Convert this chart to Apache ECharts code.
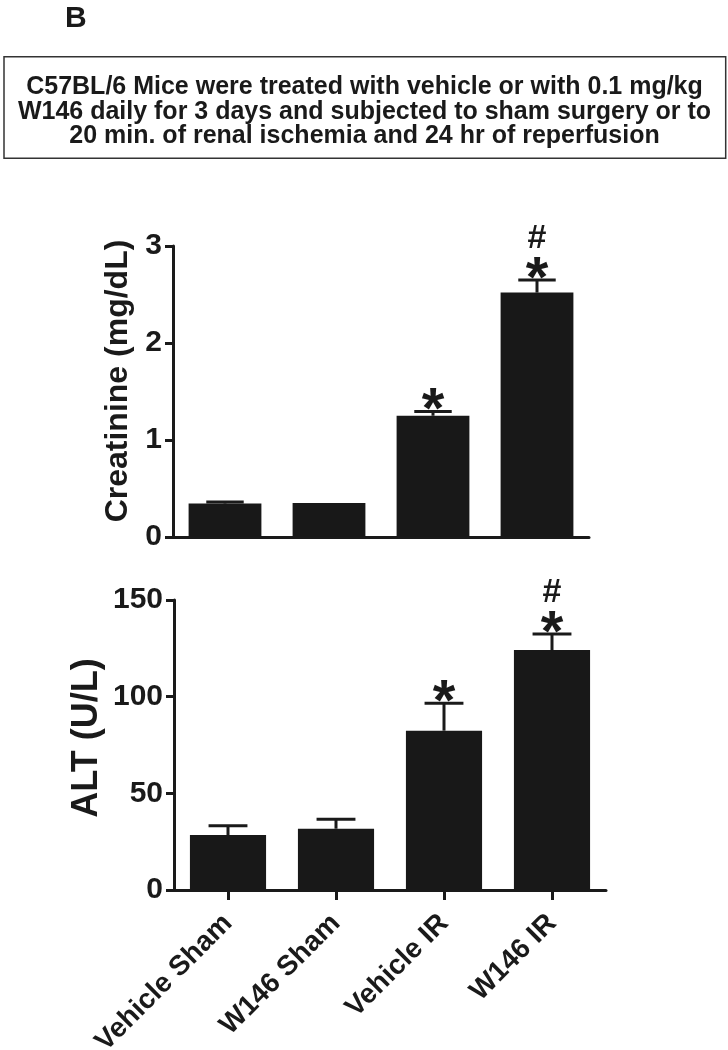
<!DOCTYPE html>
<html>
<head>
<meta charset="utf-8">
<script src="https://cdn.jsdelivr.net/npm/echarts@6/dist/echarts.min.js"></script>
<style>
html,body{margin:0;padding:0;background:#fff;}
#chart{width:728px;height:1050px;}
</style>
</head>
<body>
<div id="chart"></div>
<script>
// ---- data ----
const categories = ['Vehicle Sham', 'W146 Sham', 'Vehicle IR', 'W146 IR'];
const creatinine = [0.345, 0.35, 1.25, 2.52];
const creatinineErr = [0.015, 0, 0.045, 0.13];
const creatinineStar = ['', '', '*', '*'];
const creatinineHash = ['', '', '', '#'];
const alt = [28.4, 31.7, 82.4, 124.1];
const altErr = [4.8, 4.9, 14.2, 8.3];
const altStar = ['', '', '*', '*'];
const altHash = ['', '', '', '#'];
const creatinineAxis = { min: 0, max: 3, interval: 1 };
const altAxis = { min: 0, max: 150, interval: 50 };
const panelLetter = 'B';
const headerText = 'C57BL/6 Mice were treated with vehicle or with 0.1 mg/kg\nW146 daily for 3 days and subjected to sham surgery or to\n20 min. of renal ischemia and 24 hr of reperfusion';
const creatinineTitle = 'Creatinine (mg/dL)';
const altTitle = 'ALT (U/L)';

const INK = '#1a1a1a';
const FONT = '"Liberation Sans", Arial, sans-serif';

function errItem(vals, errs, stars, hashes) {
  return function (params, api) {
    const i = params.dataIndex;
    const v = vals[i], e = errs[i];
    const base = api.coord([i, v]);
    const top = api.coord([i, v + e]);
    const bw = api.size([1, 0])[0];
    const cw = bw * 0.36;
    const children = [];
    if (e > 0) {
      children.push(
        { type: 'line', shape: { x1: base[0], y1: base[1], x2: top[0], y2: top[1] },
          style: { stroke: INK, lineWidth: 3 } },
        { type: 'line', shape: { x1: top[0] - cw / 2, y1: top[1], x2: top[0] + cw / 2, y2: top[1] },
          style: { stroke: INK, lineWidth: 3 } }
      );
    }
    const starY = top[1] - 13;
    if (stars[i]) {
      children.push({ type: 'text', style: { text: stars[i], x: top[0], y: starY + 14,
        fill: INK, fontSize: 58, fontWeight: 'bold', fontFamily: FONT,
        align: 'center', verticalAlign: 'middle' } });
    }
    if (hashes[i]) {
      children.push({ type: 'text', style: { text: hashes[i], x: top[0], y: starY - 28.5,
        fill: INK, fontSize: 34, fontWeight: 'bold', fontFamily: FONT,
        align: 'center', verticalAlign: 'middle' } });
    }
    return { type: 'group', children };
  };
}

const axisLineStyle = { lineStyle: { color: INK, width: 3 } };
const yLabel = { fontSize: 30, fontWeight: 'bold', fontFamily: FONT, color: INK, margin: 11 };

const chart = echarts.init(document.getElementById('chart'), null, { renderer: 'canvas' });
chart.setOption({
  backgroundColor: '#fff',
  animation: false,
  textStyle: { fontFamily: FONT },
  graphic: [
    { type: 'text', left: 65, top: 4, style: { text: panelLetter, fontSize: 30, fontWeight: 'bold', fontFamily: FONT, fill: INK } },
    { type: 'rect', shape: { x: 4, y: 56.7, width: 721.7, height: 101.6 },
      style: { fill: 'none', stroke: '#333', lineWidth: 1.5 } },
    { type: 'text', x: 364.5, y: 112, style: { text: headerText, fontSize: 25, fontWeight: 'bold', fontFamily: FONT,
      fill: INK, align: 'center', verticalAlign: 'middle', lineHeight: 24.5 } },
    { type: 'text', x: 118, y: 381, rotation: Math.PI / 2, style: { text: creatinineTitle, fontSize: 32, fontWeight: 'bold',
      fontFamily: FONT, fill: INK, align: 'center', verticalAlign: 'middle' } },
    { type: 'text', x: 87, y: 738, rotation: Math.PI / 2, style: { text: altTitle, fontSize: 36, fontWeight: 'bold',
      fontFamily: FONT, fill: INK, align: 'center', verticalAlign: 'middle' } }
  ],
  grid: [
    { left: 173, top: 246, width: 416, height: 291, containLabel: false, outerBoundsMode: 'none' },
    { left: 174, top: 600, width: 432, height: 290, containLabel: false, outerBoundsMode: 'none' }
  ],
  xAxis: [
    { type: 'category', gridIndex: 0, data: categories, axisLine: axisLineStyle,
      axisTick: { show: false }, axisLabel: { show: false }, splitLine: { show: false } },
    { type: 'category', gridIndex: 1, data: categories, axisLine: axisLineStyle,
      axisTick: { show: true, alignWithLabel: true, length: 10, lineStyle: { color: INK, width: 3 } },
      axisLabel: { rotate: 45, fontSize: 28, fontWeight: 'bold', fontFamily: FONT, color: INK, margin: 29, interval: 0 },
      splitLine: { show: false } }
  ],
  yAxis: [
    { type: 'value', gridIndex: 0, min: creatinineAxis.min, max: creatinineAxis.max, interval: creatinineAxis.interval,
      axisLine: { show: true, lineStyle: { color: INK, width: 3 } },
      axisTick: { show: true, length: 8, lineStyle: { color: INK, width: 3 } },
      axisLabel: yLabel, splitLine: { show: false } },
    { type: 'value', gridIndex: 1, min: altAxis.min, max: altAxis.max, interval: altAxis.interval,
      axisLine: { show: true, lineStyle: { color: INK, width: 3 } },
      axisTick: { show: true, length: 8, lineStyle: { color: INK, width: 3 } },
      axisLabel: yLabel, splitLine: { show: false } }
  ],
  series: [
    { type: 'bar', xAxisIndex: 0, yAxisIndex: 0, data: creatinine, barWidth: '70%',
      itemStyle: { color: '#181818' }, z: 2 },
    { type: 'custom', xAxisIndex: 0, yAxisIndex: 0, data: creatinine.map((v, i) => [i, v]),
      renderItem: errItem(creatinine, creatinineErr, creatinineStar, creatinineHash), clip: false, z: 3 },
    { type: 'bar', xAxisIndex: 1, yAxisIndex: 1, data: alt, barWidth: '70.5%',
      itemStyle: { color: '#181818' }, z: 2 },
    { type: 'custom', xAxisIndex: 1, yAxisIndex: 1, data: alt.map((v, i) => [i, v]),
      renderItem: errItem(alt, altErr, altStar, altHash), clip: false, z: 3 }
  ]
});
</script>
</body>
</html>
